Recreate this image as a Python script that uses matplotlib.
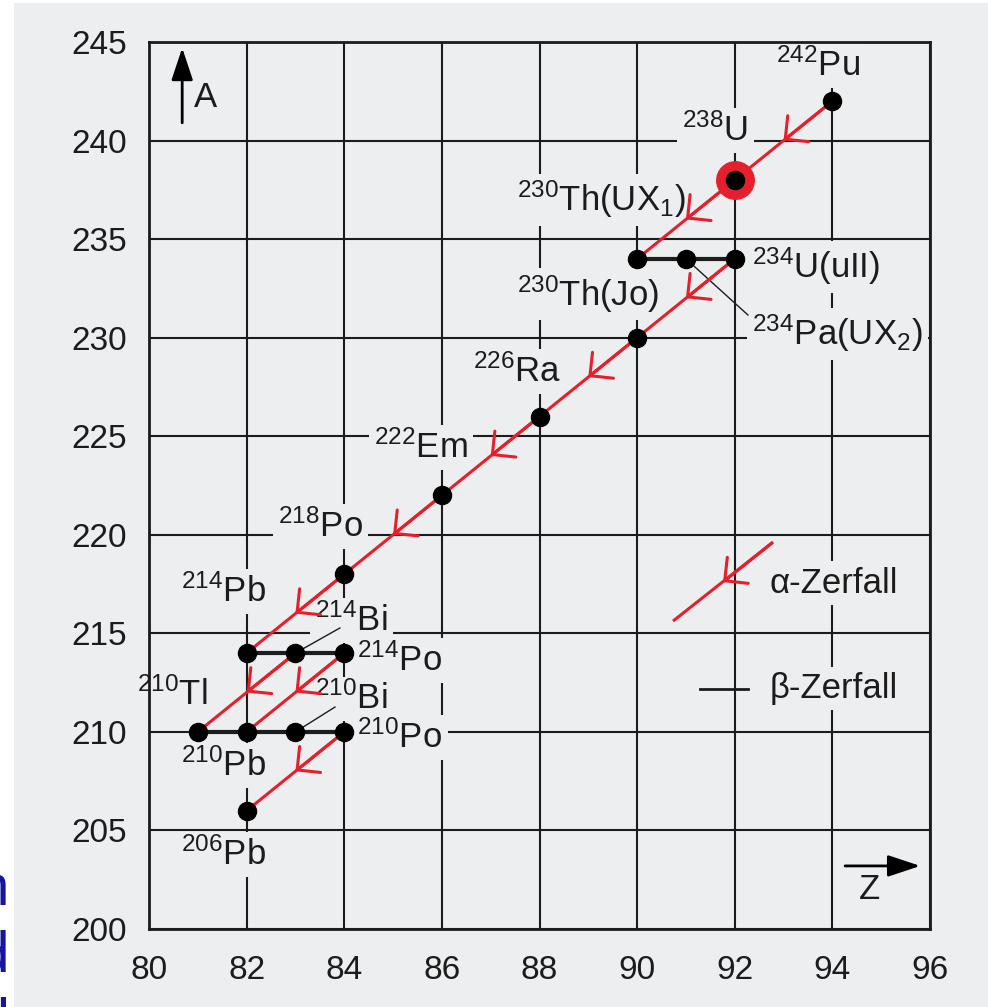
import matplotlib
matplotlib.use("Agg")
import matplotlib.pyplot as plt
from matplotlib.patches import Rectangle

plt.rcParams['font.family'] = ['Liberation Sans', 'DejaVu Sans']
plt.rcParams['mathtext.fontset'] = 'custom'
plt.rcParams['mathtext.rm'] = 'Liberation Sans'
plt.rcParams['mathtext.it'] = 'Liberation Sans:italic'

# nuclides (Z, A)
nuc_z = [94, 92, 90, 91, 92, 90, 88, 86, 84, 82, 83, 84, 81, 82, 83, 84, 82]
nuc_a = [242, 238, 234, 234, 234, 230, 226, 222, 218, 214, 214, 214, 210, 210, 210, 210, 206]

# alpha decays: parent (Z, A) -> (Z-2, A-4)
alpha_z = [94, 92, 92, 90, 88, 86, 84, 83, 84, 84]
alpha_a = [242, 238, 234, 230, 226, 222, 218, 214, 214, 210]

# beta decays: parent (Z, A) -> (Z+1, A)
beta_z = [90, 91, 82, 83, 81, 82, 83]
beta_a = [234, 234, 214, 214, 210, 210, 210]

# start nuclide
start_z, start_a = 92, 238

# labels
lab_text = [r'$^{242}$Pu', r'$^{238}$U', r'$^{230}$Th(UX$_1$)', r'$^{234}$U(uII)',
            r'$^{230}$Th(Jo)', r'$^{234}$Pa(UX$_2$)', r'$^{226}$Ra', r'$^{222}$Em',
            r'$^{218}$Po', r'$^{214}$Pb', r'$^{214}$Bi', r'$^{214}$Po',
            r'$^{210}$Tl', r'$^{210}$Bi', r'$^{210}$Po', r'$^{210}$Pb', r'$^{206}$Pb']
lab_z = [93.7, 91.6, 91.0, 92.35, 90.45, 92.35, 87.55, 85.57, 83.52, 81.52,
         84.14, 85.14, 80.47, 84.14, 85.14, 81.52, 81.52]
lab_a = [243.8, 240.5, 237.0, 233.6, 232.2, 230.2, 228.3, 224.45, 220.4, 217.1,
         215.67, 213.6, 211.9, 211.67, 209.7, 208.3, 203.8]
lab_ha = ['center', 'center', 'right', 'left', 'right', 'left', 'center', 'center',
          'center', 'center', 'center', 'center', 'center', 'center', 'center',
          'center', 'center']

# leader lines from nuclide to label
lead_z0 = [91, 83, 83]
lead_a0 = [234, 214, 210]
lead_z1 = [92.27, 83.91, 83.81]
lead_a1 = [231.15, 215.27, 211.26]

xticks = list(range(80, 97, 2))
yticks = list(range(200, 246, 5))

bg = '#edeef0'
red = '#e3202b'
ink = '#1c1c1c'

fig = plt.figure(figsize=(9.88, 10.07), dpi=100, facecolor='white')
fig.patches.append(Rectangle((14 / 988, 0), 1, 1 - 3 / 1007, transform=fig.transFigure,
                             facecolor=bg, edgecolor='none', zorder=-10))
ax = fig.add_axes([149 / 988, 1 - 929 / 1007, 781 / 988, 887 / 1007])
ax.set_facecolor(bg)
ax.set_xlim(80, 96)
ax.set_ylim(200, 245)
ax.set_xticks(xticks)
ax.set_yticks(yticks)
ax.tick_params(length=0, labelsize=24, colors=ink)
ax.tick_params(axis='y', pad=16)
ax.tick_params(axis='x', pad=19)
ax.grid(True, color=ink, lw=1.5, zorder=1)
ax.set_axisbelow(True)
for s in ax.spines.values():
    s.set_color(ink)
    s.set_linewidth(2)

fs = 25

# labels with background so grid is interrupted
for t, z, a, ha in zip(lab_text, lab_z, lab_a, lab_ha):
    ax.text(z, a, t, ha=ha, va='center', fontsize=fs, color=ink, zorder=2,
            bbox=dict(boxstyle='square,pad=0.15', facecolor=bg, edgecolor='none'))

# leader lines
for z0, a0, z1, a1 in zip(lead_z0, lead_a0, lead_z1, lead_a1):
    ax.plot([z0, z1], [a0, a1], color=ink, lw=1.0, zorder=3)

# beta decays
for z, a in zip(beta_z, beta_a):
    ax.plot([z, z + 1], [a, a], color=ink, lw=3, zorder=3, solid_capstyle='butt')

# alpha decays with arrowheads in the middle
arr = '->,head_length=0.5,head_width=0.5'
for z, a in zip(alpha_z, alpha_a):
    ax.plot([z, z - 2], [a, a - 4], color=red, lw=2.2, zorder=3)
    ax.annotate('', xy=(z - 1, a - 2), xytext=(z, a),
                arrowprops=dict(arrowstyle=arr, color=red, lw=2.2, mutation_scale=24,
                                shrinkA=0, shrinkB=0), zorder=3)

ax.plot([start_z], [start_a], 'o', ms=27, color=red, zorder=4)
ax.plot(nuc_z, nuc_a, 'o', ms=13, color='black', zorder=5)

# legend
ax.plot([90.76, 92.76], [215.67, 219.58], color=red, lw=2.2, zorder=3)
ax.annotate('', xy=(91.76, 217.6), xytext=(92.76, 219.58),
            arrowprops=dict(arrowstyle=arr, color=red, lw=2.2, mutation_scale=24,
                            shrinkA=0, shrinkB=0), zorder=3)
ax.text(92.72, 217.55, 'α-Zerfall', fontsize=fs, color=ink, va='center', ha='left', zorder=2,
        bbox=dict(boxstyle='square,pad=0.15', facecolor=bg, edgecolor='none'))
ax.plot([91.29, 92.27], [212.2, 212.2], color=ink, lw=2, zorder=3)
ax.text(92.72, 212.2, 'β-Zerfall', fontsize=fs, color=ink, va='center', ha='left', zorder=2,
        bbox=dict(boxstyle='square,pad=0.15', facecolor=bg, edgecolor='none'))

# axis arrows
ax.annotate('', xy=(80.68, 244.7), xytext=(80.68, 240.9),
            arrowprops=dict(arrowstyle='-|>,head_length=0.9,head_width=0.3', color='black',
                            lw=2, mutation_scale=22, shrinkA=0, shrinkB=0), zorder=3)
ax.text(81.15, 242.16, 'A', fontsize=fs, color=ink, ha='center', va='center')
ax.annotate('', xy=(95.8, 203.2), xytext=(94.26, 203.2),
            arrowprops=dict(arrowstyle='-|>,head_length=0.9,head_width=0.3', color='black',
                            lw=2, mutation_scale=22, shrinkA=0, shrinkB=0), zorder=3)
ax.text(94.77, 201.98, 'Z', fontsize=fs, color=ink, ha='center', va='center')

# cut-off slide text at left edge
for ch, y in zip(['n', 'd', 'l'], [905, 972, 1039]):
    fig.text(9 / 988, 1 - y / 1007, ch, fontsize=42, color='#1515a0', ha='right',
             va='baseline')

fig.savefig('out.png', dpi=100, facecolor='white')
